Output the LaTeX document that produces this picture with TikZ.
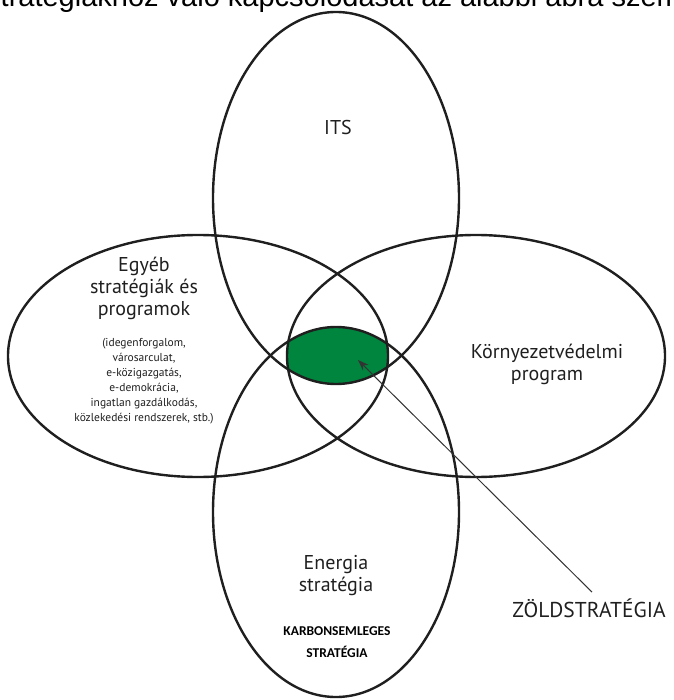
\documentclass[tikz,border=0pt]{standalone}
\usepackage{fontspec}
\setmainfont{PT Sans}
\newfontfamily\calfont{Carlito}
\newfontfamily\arialfont{Liberation Sans}
\usetikzlibrary{arrows.meta}
\usetikzlibrary{positioning}
\tikzset{>={Stealth[length=11pt,width=8pt]}}
\definecolor{zoldszin}{RGB}{0,133,62}
\tikzset{
	halmaz/.style={line width=2.4pt, black!88},
	cimke/.style={align=center, inner sep=0pt, text=black!88, font=\fontsize{20}{22}\selectfont},
	kiscimke/.style={align=center, inner sep=0pt, text=black!88, font=\fontsize{11.5}{15}\selectfont},
	nagybetu/.style={align=center, inner sep=0pt, font=\calfont\bfseries\fontsize{13.5}{22}\selectfont},
}

\begin{document}
\begin{tikzpicture}[x=1pt,y=-1pt]
		\useasboundingbox (0,0) rectangle (673,700);
		\coordinate (T) at (336,198);
		\coordinate (B) at (336,512);
		\coordinate (L) at (198,356);
		\coordinate (R) at (476,356);
		\coordinate (mag) at (358,360);
		% the common part
		\begin{scope}
			\clip (T) ellipse [x radius=123, y radius=186];
			\clip (B) ellipse [x radius=123, y radius=185];
			\clip (L) ellipse [x radius=190, y radius=121];
			\clip (R) ellipse [x radius=189, y radius=121];
			\fill[zoldszin] (200,250) rectangle (480,460);
		\end{scope}
		\draw[halmaz] (T) ellipse [x radius=123, y radius=186];
		\draw[halmaz] (B) ellipse [x radius=123, y radius=185];
		\draw[halmaz] (L) ellipse [x radius=190, y radius=121];
		\draw[halmaz] (R) ellipse [x radius=189, y radius=121];
		% cut line of the page above
		\begin{scope}
			\clip (0,0) rectangle (673,700);
			\node[anchor=base west, inner sep=0pt, font=\arialfont\fontsize{29}{29}\selectfont] (felso) at (-14,7) {stratégiákhoz való kapcsolódását az alábbi ábra szemlélteti:};
		\end{scope}
		\node[cimke] (its) at (338,128) {ITS};
		\node[cimke] (egyeb) at (144,288) {Egyéb\\stratégiák és\\programok};
		\node[kiscimke] (egyebpl) at (144,381) {(idegenforgalom,\\városarculat,\\e-közigazgatás,\\e-demokrácia,\\ingatlan gazdálkodás,\\közlekedési rendszerek, stb.)};
		\node[cimke] (korny) at (547,364) {Környezetvédelmi\\program};
		\node[cimke] (energia) at (336,576) {Energia\\stratégia};
		\node[nagybetu] (karbon) at (337,642) {KARBONSEMLEGES\\STRATÉGIA};
		\node[anchor=base, inner sep=0pt, text=black!88, font=\fontsize{21.5}{22}\selectfont] (zold) at (589,617) {ZÖLDSTRATÉGIA};
		\draw[->, line width=1pt, black!80] ([xshift=3pt,yshift=6pt]zold.north) -- (mag);
\end{tikzpicture}
\end{document}
